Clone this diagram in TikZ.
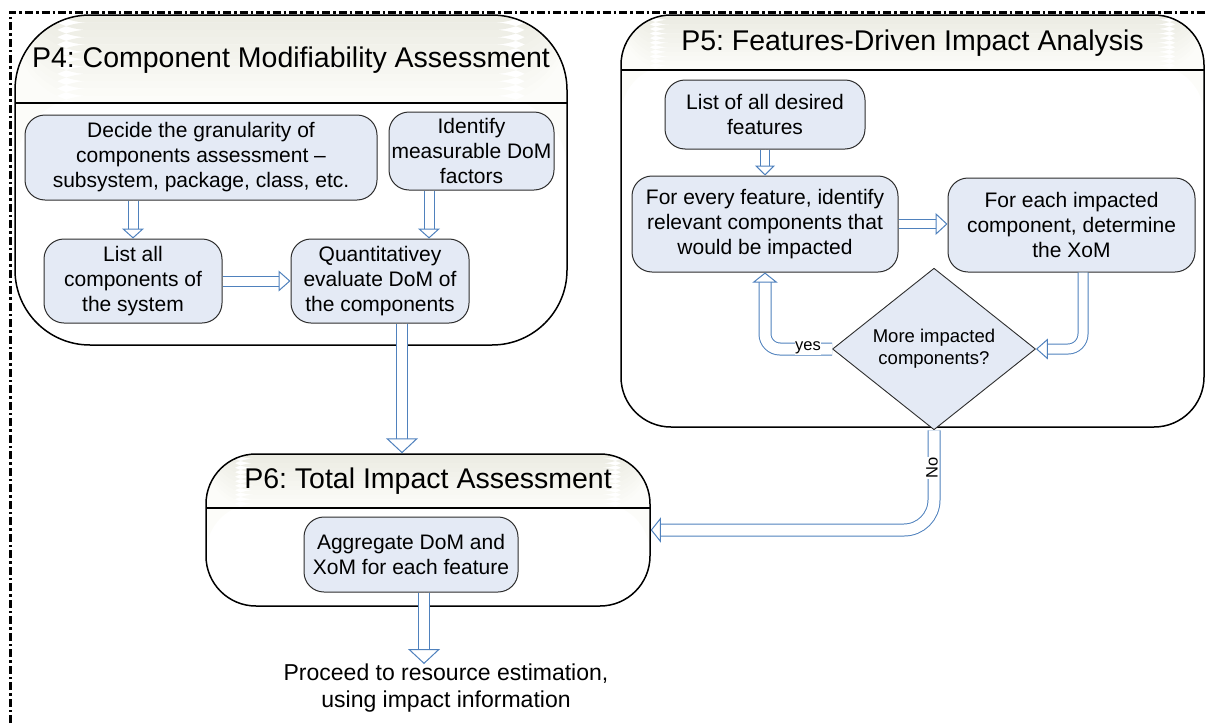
\documentclass[tikz,border=0pt]{standalone}
\usepackage{fontspec}
\setmainfont{Liberation Sans}
\frenchspacing
\usetikzlibrary{arrows.meta,shapes.geometric,calc}
\definecolor{boxblue}{RGB}{228,234,245}
\definecolor{arrblue}{RGB}{79,129,189}
\definecolor{headtop}{RGB}{236,236,227}
\definecolor{headbot}{RGB}{252,252,249}
\definecolor{edgegray}{RGB}{45,45,45}
\tikzset{
  container/.style={draw=black, line width=1.5pt, rounded corners=#1, inner sep=0pt},
  header/.style={path picture={
     \foreach \i in {0,...,11}{
       \pgfmathsetmacro\pc{100-\i*100/11}
       \fill[headtop!\pc!headbot] ([yshift=-\i*#1/12]path picture bounding box.north west) rectangle ([yshift=-\i*#1/12-#1/12-0.4pt]path picture bounding box.north east);}
     \draw[line width=1.5pt] ([yshift=-#1]path picture bounding box.north west) -- ([yshift=-#1]path picture bounding box.north east);}},
  ptitle/.style={font=\fontsize{28.5}{34}\selectfont, inner sep=0pt},
  stepbox/.style={draw=edgegray, line width=1pt, fill=boxblue, rounded corners=20pt, align=center, font=\fontsize{21}{25}\selectfont, inner sep=0pt},
  decision/.style={diamond, draw=edgegray, line width=0.9pt, fill=boxblue, align=center, font=\fontsize{18.5}{22}\selectfont, inner sep=0pt},
  hshaft/.style 2 args={draw=arrblue, line width=1pt, double=white, double distance=#1, shorten >=#2-0.5pt},
  hhead/.style 2 args={draw=white, line width=0.3pt, -{Triangle[width=#1, length=#2, color=arrblue, fill=white, line width=1pt]}},
  lbl/.style={font=\fontsize{16.5}{18}\selectfont, fill=white, inner sep=0.5pt},
  frame/.style={line width=3pt, dash pattern=on 8pt off 3pt on 2.5pt off 3pt}
}
\begin{document}
\begin{tikzpicture}[x=1pt,y=-1pt]
\useasboundingbox (0,0) rectangle (1207,723);
\draw[frame] (10,723) -- (10,12) -- (1207,12);

% containers
\node[container=75pt, header=88pt, minimum width=552pt, minimum height=330pt] (p4) at (291,180) {};
\node[container=50pt, header=55pt, minimum width=583pt, minimum height=412pt] (p5) at (912.5,221) {};
\node[container=50pt, header=54pt, minimum width=444pt, minimum height=152pt] (p6) at (428,530) {};

\node[ptitle] (t4) at (291,60) {P4: Component Modifiability Assessment};
\node[ptitle] (t5) at (912.5,43) {P5: Features-Driven Impact Analysis};
\node[ptitle] (t6) at (428,481) {P6: Total Impact Assessment};

% P4 steps
\node[stepbox, minimum width=352pt, minimum height=85pt] (dec) at (201,157.5) {Decide the granularity of\\components assessment –\\subsystem, package, class, etc.};
\node[stepbox, minimum width=165pt, minimum height=78pt] (idf) at (471.5,151) {Identify\\measurable DoM\\factors};
\node[stepbox, minimum width=178pt, minimum height=84pt] (lst) at (133,281) {List all\\components of\\the system};
\node[stepbox, minimum width=178pt, minimum height=84pt] (qnt) at (380,281) {Quantitativey\\evaluate DoM of\\the components};

% P5 steps
\node[stepbox, minimum width=200pt, minimum height=69pt] (lsd) at (765,114.5) {List of all desired\\features};
\node[stepbox, minimum width=266pt, minimum height=96pt] (fev) at (765,224) {For every feature, identify\\relevant components that\\would be impacted};
\node[stepbox, minimum width=247pt, minimum height=94pt] (fea) at (1071.5,225) {For each impacted\\component, determine\\the XoM};
\node[decision, minimum width=203pt, minimum height=122pt] (dia) at (934,349) {More impacted\\components?};

% P6 step
\node[stepbox, minimum width=214pt, minimum height=75pt] (agg) at (411,554.5) {Aggregate DoM and\\XoM for each feature};
\node[font=\fontsize{23}{27}\selectfont, align=center, inner sep=0pt, anchor=north] (proc) at (446,664) {Proceed to resource estimation,\\using impact information};

% arrows
\draw[hshaft={9pt}{10pt}] (lst.north |- dec.south) -- (lst.north);
\draw[hhead={22pt}{10pt}] (lst.north |- dec.south) -- (lst.north);

\draw[hshaft={9pt}{10pt}] ([xshift=-42.5pt]idf.south) -- ([xshift=-42.5pt]idf.south |- qnt.north);
\draw[hhead={22pt}{10pt}] ([xshift=-42.5pt]idf.south) -- ([xshift=-42.5pt]idf.south |- qnt.north);

\draw[hshaft={9pt}{12pt}] (lst.east) -- (qnt.west);
\draw[hhead={21pt}{12pt}] (lst.east) -- (qnt.west);

\draw[hshaft={10pt}{15pt}] ([xshift=22pt]qnt.south) -- ([xshift=22pt]qnt.south |- p6.north);
\draw[hhead={32pt}{15pt}] ([xshift=22pt]qnt.south) -- ([xshift=22pt]qnt.south |- p6.north);

\draw[hshaft={8pt}{10pt}] (lsd.south) -- (fev.north);
\draw[hhead={20pt}{10pt}] (lsd.south) -- (fev.north);

\draw[hshaft={8pt}{12pt}] (fev.east) -- (fea.west |- fev.east);
\draw[hhead={22pt}{12pt}] (fev.east) -- (fea.west |- fev.east);

\draw[hshaft={9pt}{12pt}, rounded corners=15pt] ([xshift=11.5pt]fea.south) |- (dia.east);
\draw[hhead={21pt}{12pt}, rounded corners=15pt] ([xshift=11.5pt]fea.south) |- (dia.east);

\draw[hshaft={11pt}{10pt}, rounded corners=15pt] (dia.west) -| (fev.south);
\draw[hhead={25pt}{10pt}, rounded corners=15pt] (dia.west) -| (fev.south);

\draw[hshaft={11pt}{10pt}, rounded corners=30pt] (dia.south) |- (p6.east);
\draw[hhead={25pt}{10pt}, rounded corners=30pt] (dia.south) |- (p6.east);

\draw[hshaft={10pt}{15pt}] ([xshift=13pt]agg.south) -- ([xshift=13pt]agg.south |- proc.north);
\draw[hhead={32pt}{15pt}] ([xshift=13pt]agg.south) -- ([xshift=13pt]agg.south |- proc.north);

% labels
\node[lbl] (yes) at (808,348) {yes};
\node[lbl, rotate=90] (no) at (932,468) {No};
\end{tikzpicture}
\end{document}
